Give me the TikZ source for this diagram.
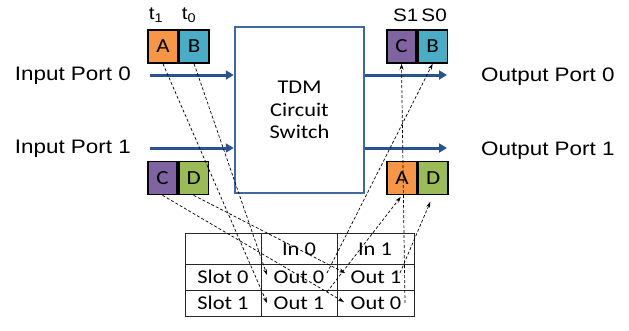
\documentclass[tikz,border=0pt]{standalone}
\usepackage{fontspec}
\setmainfont{Liberation Sans}[FakeStretch=1.15]
\newfontfamily\califont{Carlito}[FakeStretch=1.15]
\usetikzlibrary{arrows.meta}

\definecolor{cellA}{RGB}{247,150,70}
\definecolor{cellB}{RGB}{75,172,198}
\definecolor{cellC}{RGB}{128,100,162}
\definecolor{cellD}{RGB}{155,187,89}
\definecolor{boxblue}{RGB}{65,105,160}
\definecolor{portblue}{RGB}{42,82,145}

\begin{document}
\begin{tikzpicture}[x=1pt,y=-1pt]
    \tikzstyle{cell}=[rectangle, draw=black, line width=1.6pt, minimum width=29.5pt, minimum height=33pt, inner sep=0pt, font=\califont\fontsize{20}{22}\selectfont]
    \tikzstyle{port}=[draw=portblue, line width=3pt, -{Triangle[length=8pt,width=9pt]}]
    \tikzstyle{link}=[densely dashed, line width=0.7pt, -{Stealth[length=6pt,width=4pt]}]
    \tikzstyle{lbl}=[inner sep=0pt, font=\fontsize{19.5}{22}\selectfont]
    \tikzstyle{tab}=[inner sep=0pt, font=\califont\fontsize{19.5}{22}\selectfont]
    \tikzstyle{tabline}=[draw=black!85, line width=1pt]

    \useasboundingbox (0,0) rectangle (629,330);

    % switch and ports
    \node[draw=boxblue, line width=2.5pt, minimum width=129pt, minimum height=166pt, align=center, font=\califont\fontsize{19.5}{22.5}\selectfont] (sw) at (299.5,110) {TDM\\Circuit\\Switch};

    \coordinate (in0) at (150,75);
    \coordinate (in1) at (150,148);
    \coordinate (out0) at (447,75);
    \coordinate (out1) at (447,148);
    \draw[port] (in0) -- (in0 -| sw.west);
    \draw[port] (in1) -- (in1 -| sw.west);
    \draw[port] (out0 -| sw.east) -- (out0);
    \draw[port] (out1 -| sw.east) -- (out1);

    \node[lbl, anchor=east] (lin0) at (131,76) {Input Port 0};
    \node[lbl, anchor=east] (lin1) at (131,149) {Input Port 1};
    \node[lbl, anchor=west] (lout0) at (481,77) {Output Port 0};
    \node[lbl, anchor=west] (lout1) at (481,151) {Output Port 1};

    % time slots
    \node[cell, fill=cellA] (inA) at (163,46.5) {A};
    \node[cell, fill=cellB, anchor=west] (inB) at (inA.east) {B};
    \node[cell, fill=cellC] (inC) at (162.5,178) {C};
    \node[cell, fill=cellD, anchor=west] (inD) at (inC.east) {D};
    \node[cell, fill=cellC] (outC) at (401.5,46.5) {C};
    \node[cell, fill=cellB, anchor=west] (outB) at (outC.east) {B};
    \node[cell, fill=cellA] (outA) at (402,178) {A};
    \node[cell, fill=cellD, anchor=west] (outD) at (outA.east) {D};

    \node[lbl, font=\fontsize{18}{20}\selectfont] (t1) at (156,15) {t\textsubscript{1}};
    \node[lbl, font=\fontsize{18}{20}\selectfont] (t0) at (189,15) {t\textsubscript{0}};
    \node[lbl, font=\fontsize{18}{20}\selectfont] (slots) at (420,15) {S1\,S0};

    % table
    \draw[tabline] (185,233) rectangle (414,316);
    \foreach \y in {264,290} \draw[tabline] (185,\y) -- (414,\y);
    \foreach \x in {261,337} \draw[tabline] (\x,233) -- (\x,316);

    \node[tab] (hin0) at (299,249) {In 0};
    \node[tab] (hin1) at (375,249) {In 1};
    \node[tab] (slot0) at (223,277) {Slot 0};
    \node[tab] (slot1) at (223,303) {Slot 1};
    \node[tab] (o00) at (299,277) {Out 0};
    \node[tab] (o01) at (376,277) {Out 1};
    \node[tab] (o10) at (299,303) {Out 1};
    \node[tab] (o11) at (376,303) {Out 0};

    \coordinate (t00) at (267,275);
    \coordinate (t10) at (267,303);
    \coordinate (t01) at (345,273);
    \coordinate (t11) at (344,302);
    \coordinate (f00) at (327,273);
    \coordinate (f10) at (327,292);
    \coordinate (f01) at (400,273);
    \coordinate (f11) at (405,303);

    % slot mapping
    \draw[link] (inA.south) -- (t10);
    \draw[link] (inB.south) -- (t00);
    \draw[link] (inC.south) -- (t11);
    \draw[link] (inD.south) -- (t01);
    \draw[link] (f00) -- (outB.south);
    \draw[link, shorten >=2pt] (f10) -- (outA.south);
    \draw[link, shorten >=7pt] (f01) -- (outD.south);
    \draw[link] (f11) -- (outC.south);
\end{tikzpicture}
\end{document}
